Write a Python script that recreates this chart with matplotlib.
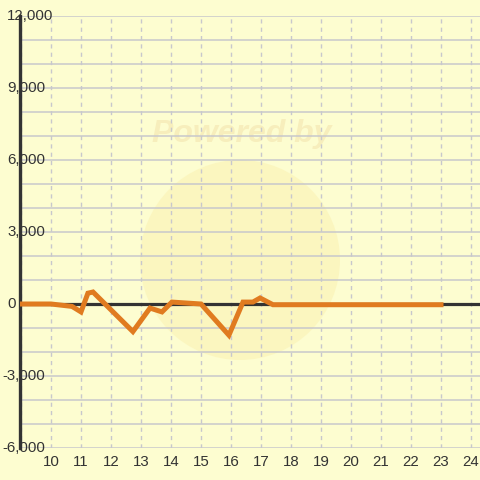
import matplotlib
matplotlib.use("Agg")
import matplotlib.pyplot as plt
from matplotlib.patches import Circle

x_vals = [9, 10, 10.7, 11, 11.23, 11.4, 12.73, 13.3, 13.7, 14.03, 15, 15.93, 16.4, 16.73, 16.97, 17.4, 23]
y_vals = [0, 0, -100, -330, 450, 500, -1150, -170, -330, 80, 0, -1300, 80, 80, 250, -30, -30]
x_ticks = list(range(10, 25))
y_ticks = [-6000, -3000, 0, 3000, 6000, 9000, 12000]

BG = "#FDFDD0"
fig = plt.figure(figsize=(4.8, 4.8), dpi=100, facecolor=BG)
ax = fig.add_axes([20/480, 32/480, 460/480, 432/480])
ax.set_facecolor(BG)
ax.set_xlim(10 - 31/30, 10 + 429/30)
ax.set_ylim(-6000, 12000)

# watermark
circ = Circle((240/480, 1 - 260/480), 100/480, transform=fig.transFigure,
              facecolor="#FBF2B4", alpha=0.6, edgecolor="none", zorder=0.5)
ax.add_patch(circ)
ax.text(242/480, 1 - 134/480, "Powered by", transform=fig.transFigure, ha="center", va="center",
        fontsize=23, fontweight="bold", style="italic", color="#F7EEBC",
        family="Liberation Sans", zorder=0.6)

for yv in range(-6000, 12001, 1000):
    ax.axhline(yv, color="#C8C8CC", lw=1.1, zorder=1)
for xv in range(9, 25):
    ax.axvline(xv, color="#C8C8CC", lw=1.0, ls=(0, (3, 3)), zorder=1)

ax.axhline(0, color="#333333", lw=2.3, zorder=2)
ax.plot(x_vals, y_vals, color="#E07B20", lw=3.6, solid_joinstyle="miter", zorder=3)

for s in ["top", "right", "bottom"]:
    ax.spines[s].set_visible(False)
ax.spines["left"].set_color("#333333")
ax.spines["left"].set_linewidth(2.4)
ax.set_xticks([])
ax.set_yticks([])

for xt in x_ticks:
    ax.annotate(str(xt), (xt, -6000), xytext=(0, -5), textcoords="offset points",
                ha="center", va="top", fontsize=10.8, color="#333333", family="Liberation Sans",
                annotation_clip=False)
for yt in y_ticks:
    lab = f"{yt:,}"
    x_left = 2 if yt < 0 else 7
    ax.annotate(lab, (0, yt), xycoords=("figure fraction", "data"), xytext=(x_left * 0.72, 0),
                textcoords="offset points", ha="left", va="center", fontsize=10.8, color="#333333",
                family="Liberation Sans", annotation_clip=False, zorder=5)

fig.savefig("out.png", dpi=100, facecolor=BG)
